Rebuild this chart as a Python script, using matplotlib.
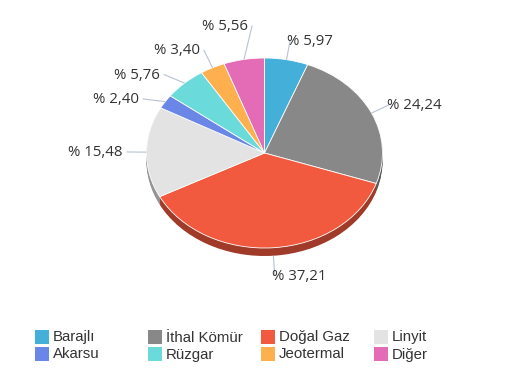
import numpy as np
import matplotlib
matplotlib.use("Agg")
import matplotlib.pyplot as plt
from matplotlib.patches import Rectangle
import matplotlib.colors as mcolors

# ---- data ----
categories = ["Barajlı", "İthal Kömür", "Doğal Gaz", "Linyit", "Akarsu", "Rüzgar", "Jeotermal", "Diğer"]
shares = [5.97, 24.24, 37.21, 15.48, 2.40, 5.76, 3.40, 5.56]
labels = ["% 5,97", "% 24,24", "% 37,21", "% 15,48", "% 2,40", "% 5,76", "% 3,40", "% 5,56"]
colors = ["#44b0da", "#888888", "#f25a3f", "#e3e3e3", "#6a86e6", "#6adada", "#ffb04e", "#e46cb6"]

# ---- layout (pixels) ----
W, H = 518, 378
CX, CY, RX, RY = 264.5, 153.0, 118.0, 95.0
DEPTH = 8
D = 20
SPACING = 24.5
TEXT_SHIFT = {1: -3, -1: -4}   # horizontal text shift from connector end (pixels)

fig = plt.figure(figsize=(W / 100, H / 100), dpi=100)
fig.patch.set_facecolor("white")

# pie axes: unit circle mapped onto ellipse
pax = fig.add_axes([(CX - RX) / W, 1 - (CY + RY) / H, 2 * RX / W, 2 * RY / H])

def darker(c, f):
    r, g, b = mcolors.to_rgb(c)
    return (r * f, g * f, b * f)

side_colors = [darker(c, 0.66) for c in colors]
for k in range(DEPTH, 0, -1):
    wedges, _ = pax.pie(shares, colors=side_colors, startangle=90, counterclock=False,
                        radius=1, center=(0, -k / RY), wedgeprops=dict(linewidth=0))
    for w in wedges:
        w.set_clip_on(False)
wedges, _ = pax.pie(shares, colors=colors, startangle=90, counterclock=False, radius=1,
                    center=(0, 0), wedgeprops=dict(edgecolor="white", linewidth=0.6))
for w in wedges:
    w.set_clip_on(False)
pax.set_aspect("auto")
pax.set_xlim(-1, 1)
pax.set_ylim(-1, 1)
pax.axis("off")

# overlay axes in pixel coordinates for labels and legend
oax = fig.add_axes([0, 0, 1, 1], zorder=5)
oax.set_xlim(0, W)
oax.set_ylim(H, 0)
oax.axis("off")
oax.patch.set_alpha(0)

vals = np.array(shares)
cum = np.cumsum(vals) / vals.sum()
mids = (cum - vals / vals.sum() / 2) * 2 * np.pi

items = []
for i, th in enumerate(mids):
    s, c = np.sin(th), np.cos(th)
    extra = DEPTH if c < 0 else 0
    ex, ey = CX + RX * s, CY - RY * c + extra
    lx, ly = CX + (RX + D) * s, CY - (RY + D) * c + extra
    items.append(dict(i=i, s=s, ex=ex, ey=ey, lx=lx, ly=ly, side=1 if s >= 0 else -1))

def pos(cl):
    m = np.mean([g["ly"] for g in cl])
    n = len(cl)
    return [m + (j - (n - 1) / 2) * SPACING for j in range(n)]

# simple vertical de-overlap per side (cluster merging)
for side in (1, -1):
    group = sorted([it for it in items if it["side"] == side], key=lambda t: t["ly"])
    clusters = [[g] for g in group]
    changed = True
    while changed:
        changed = False
        for j in range(len(clusters) - 1):
            a, b = pos(clusters[j]), pos(clusters[j + 1])
            if b[0] - a[-1] < SPACING:
                clusters[j] = clusters[j] + clusters[j + 1]
                del clusters[j + 1]
                changed = True
                break
    for cl in clusters:
        ps = pos(cl)
        for g, p in zip(cl, ps):
            if abs(p - g["ly"]) > 0.5:
                r = np.clip((p - CY) / (RY + D), -0.996, 0.996)
                g["lx"] = CX + side * (RX + D) * np.sqrt(1 - r * r)
            g["ly"] = p

for it in items:
    side = it["side"]
    oax.plot([it["ex"], it["lx"]], [it["ey"], it["ly"]], color="#b8c2d4", lw=0.8,
             solid_capstyle="butt")
    ha = "left" if side > 0 else "right"
    oax.text(it["lx"] + TEXT_SHIFT[side], it["ly"] + 1, labels[it["i"]],
             ha=ha, va="center", fontsize=10.8, family="Open Sans", color="#333333")

# legend (row-major, 4 columns)
for i, (name, col) in enumerate(zip(categories, colors)):
    row, colm = divmod(i, 4)
    x0 = 35 + 113 * colm
    y0 = 330 + 17 * row
    oax.add_patch(Rectangle((x0, y0), 14, 14, facecolor=col, edgecolor="none"))
    oax.text(x0 + 18, y0 + 7.5, name, ha="left", va="center", fontsize=10.8,
             family="Liberation Sans", color="#333333")

fig.savefig("out.png", dpi=100, facecolor="white")
